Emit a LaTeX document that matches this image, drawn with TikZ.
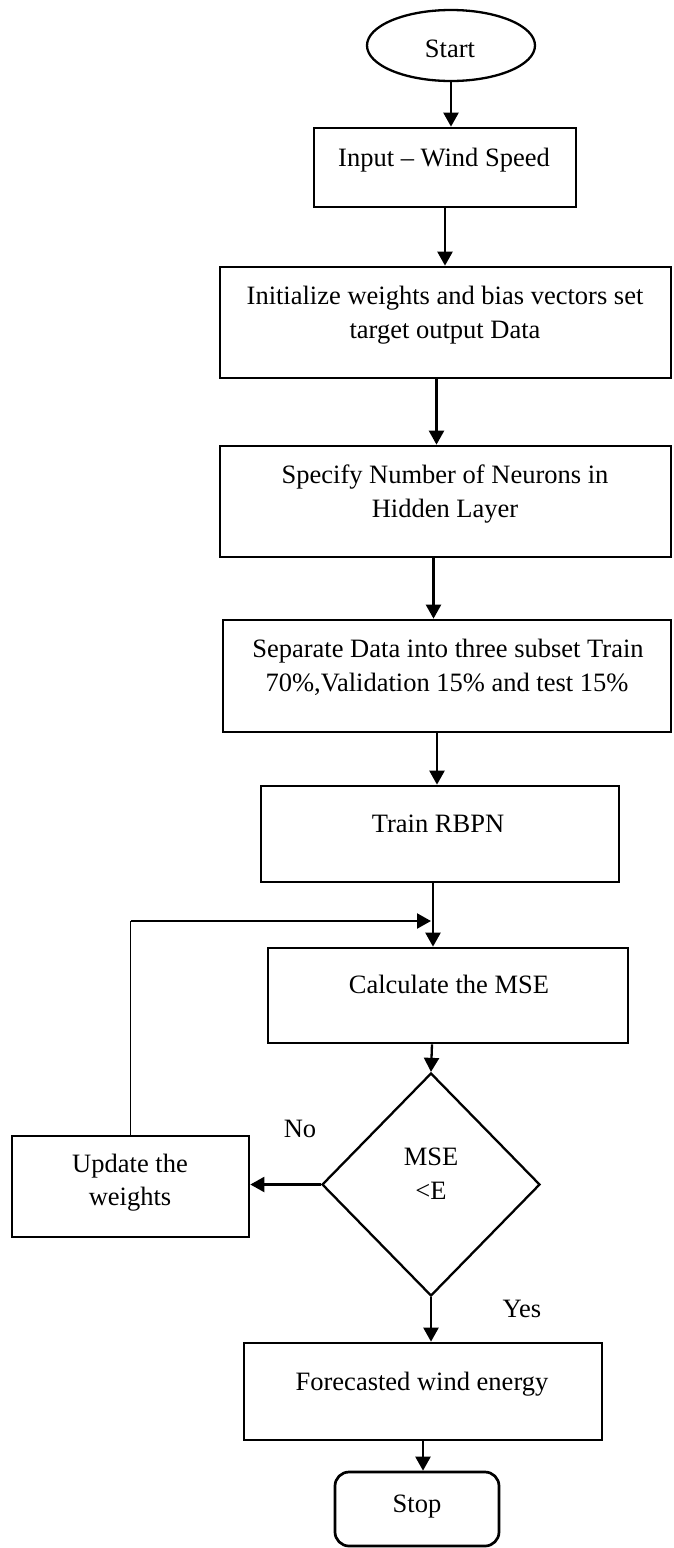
\documentclass[tikz,border=0pt]{standalone}
\usepackage{fontspec}
\setmainfont{Liberation Serif}
\usetikzlibrary{arrows.meta,shapes.geometric}
\begin{document}
\begin{tikzpicture}[x=1pt,y=-1pt,
  box/.style={draw, rectangle, line width=2.7pt, inner sep=0pt},
  startbox/.style={draw, ellipse, line width=2.3pt, inner sep=0pt},
  stopbox/.style={draw, rectangle, rounded corners=14pt, line width=2.7pt, inner sep=0pt},
  decision/.style={draw, diamond, line width=2.3pt, inner sep=0pt},
  lbl/.style={anchor=base, inner sep=0pt, font=\fontsize{26.5}{34}\selectfont},
  arr/.style={line width=2.3pt, -{Triangle[length=14pt,width=15pt]}},
  backline/.style={line width=1.5pt}]
\useasboundingbox (0,0) rectangle (673,1548);

% process boxes
\node[startbox, minimum width=168pt, minimum height=71pt] (start) at (451,45.5) {};
\node[box, minimum width=262pt, minimum height=79pt] (input) at (445,167.5) {};
\node[box, minimum width=451pt, minimum height=111pt] (init) at (445.5,322.5) {};
\node[box, minimum width=451pt, minimum height=111pt] (specify) at (445.5,501.5) {};
\node[box, minimum width=448pt, minimum height=112pt] (separate) at (447,676) {};
\node[box, minimum width=358pt, minimum height=96pt] (train) at (440,834) {};
\node[box, minimum width=360pt, minimum height=95pt] (calc) at (448,995.5) {};
\node[decision, minimum width=218pt, minimum height=223pt] (dia) at (431,1184.5) {};
\node[box, minimum width=237pt, minimum height=101pt] (update) at (130.5,1186.5) {};
\node[box, minimum width=358pt, minimum height=97pt] (forecast) at (423,1391.5) {};
\node[stopbox, minimum width=164pt, minimum height=74pt] (stop) at (417,1509) {};

% texts
\node[lbl] (t-start) at (450,57) {Start};
\node[lbl] (t-input) at (444,166) {Input – Wind Speed};
\node[lbl] (t-init1) at (445,304) {Initialize weights and bias vectors set};
\node[lbl] (t-init2) at (445,338) {target output Data};
\node[lbl] (t-spec1) at (445,483) {Specify Number of Neurons in};
\node[lbl] (t-spec2) at (445,517) {Hidden Layer};
\node[lbl] (t-sep1) at (448,657) {Separate Data into three subset Train};
\node[lbl] (t-sep2) at (447,691) {70\%,Validation 15\% and test 15\%};
\node[lbl] (t-train) at (438,832) {Train RBPN};
\node[lbl] (t-calc) at (449,993) {Calculate the MSE};
\node[lbl] (t-mse1) at (431,1165) {MSE};
\node[lbl] (t-mse2) at (431,1199) {<E};
\node[lbl] (t-upd1) at (130,1172) {Update the};
\node[lbl] (t-upd2) at (130,1205) {weights};
\node[lbl] (t-fore) at (422,1390) {Forecasted wind energy};
\node[lbl] (t-stop) at (417,1512) {Stop};
\node[lbl] (t-no) at (300,1137) {No};
\node[lbl] (t-yes) at (522,1317) {Yes};

% connectors
\draw[arr] (start.south) -- (start.south |- input.north);
\draw[arr] (input.south) -- (input.south |- init.north);
\draw[arr] ([xshift=-9pt]init.south) -- ([xshift=-9pt]init.south |- specify.north);
\draw[arr] ([xshift=-12pt]specify.south) -- ([xshift=-12pt]specify.south |- separate.north);
\draw[arr] ([xshift=-10pt]separate.south) -- ([xshift=-10pt]separate.south |- train.north);
\draw[arr] ([xshift=-7pt]train.south) -- ([xshift=-7pt]train.south |- calc.north);
\draw[arr] ([xshift=-16pt]calc.south) -- (dia.north);
\draw[arr] (dia.west) -- (dia.west -| update.east);
\draw[arr] (dia.south) -- (dia.south |- forecast.north);
\draw[arr] (forecast.south) -- (forecast.south |- stop.north);

% feedback loop back to the MSE step
\coordinate (fbc) at (130.5,921);
\coordinate (fbe) at (431,921);
\draw[backline] (update.north) -- (fbc);
\draw[arr] (fbc) -- (fbe);
\end{tikzpicture}
\end{document}
